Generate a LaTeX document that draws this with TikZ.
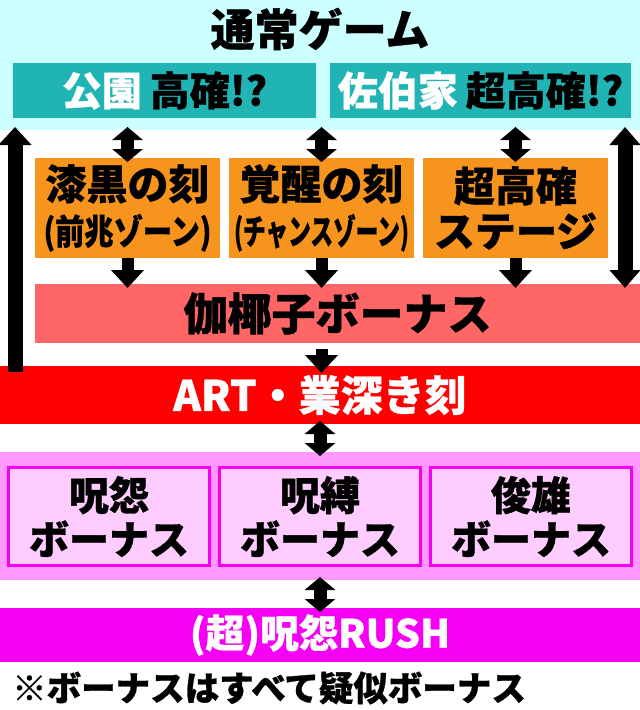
\documentclass[tikz,border=0pt]{standalone}
\usepackage{fontspec}
\usepackage{graphicx}
\setmainfont{Noto Sans CJK JP}[BoldFont={* Black}, BoldFeatures={FakeBold=0.8}]
\usepackage{tikz}
\usetikzlibrary{arrows.meta}
\usetikzlibrary{positioning}
\definecolor{normalbg}{RGB}{204,255,255}
\definecolor{stagebg}{RGB}{32,180,180}
\definecolor{zonebg}{RGB}{247,148,29}
\definecolor{kayakobg}{RGB}{255,102,102}
\definecolor{artbg}{RGB}{255,0,0}
\definecolor{bonusbg}{RGB}{255,153,255}
\definecolor{bonusfill}{RGB}{255,204,255}
\definecolor{bonusedge}{RGB}{245,0,245}
\definecolor{rushbg}{RGB}{245,0,245}
\newcommand{\fs}[2]{\fontsize{#1}{#2}\selectfont\bfseries}
\tikzset{panel/.style={anchor=north west, inner sep=0pt, outer sep=0pt}}
\tikzset{zone/.style={panel, fill=zonebg, minimum width=185pt, minimum height=100pt, align=center, font=\fs{41}{45}}}
\tikzset{bonusbox/.style={panel, fill=bonusfill, draw=bonusedge, line width=3pt, minimum width=201pt, minimum height=98pt, align=center, font=\fs{40}{44}}}
\tikzset{flowarrow/.style={line width=12pt, -{Triangle[width=32pt,length=18pt]}}}
\tikzset{linkarrow/.style={line width=13pt, shorten <=-3pt, shorten >=-4pt, {Triangle[width=30pt,length=13pt]}-{Triangle[width=30pt,length=13pt]}}}

\begin{document}
\begin{tikzpicture}[x=1pt,y=-1pt]
  \useasboundingbox (0,0) rectangle (640,710);
  % normal game
  \node[panel, fill=normalbg, minimum width=640pt, minimum height=130pt] (normal) at (0,0) {};
  \node[font=\fs{44}{44}, inner sep=0pt] (normaltitle) at (320,29) {通常ゲーム};
  \node[panel, fill=stagebg, minimum width=303pt, minimum height=55pt, font=\fs{40}{40}] (park) at (13,63)
    {{\color{white}公園}\hspace{8pt}高確!?};
  \node[panel, fill=stagebg, minimum width=301pt, minimum height=55pt, font=\fs{40}{40}] (saeki) at (330,63)
    {{\color{white}佐伯家}\hspace{8pt}超高確!?};
  % zones
  \node[zone] (shikkoku) at (35,158) {漆黒の刻\\\resizebox{168pt}{\height}{\fs{35}{35}(前兆ゾーン)}};
  \node[zone] (kakusei) at (229,158) {覚醒の刻\\\resizebox{175pt}{\height}{\fs{35}{35}(チャンスゾーン)}};
  \node[zone] (chokoukaku) at (423,158) {超高確\\ステージ};
  % bonus and ART
  \node[panel, fill=kayakobg, minimum width=605pt, minimum height=59pt, font=\fs{44}{44}] (kayako) at (35,284) {伽椰子ボーナス};
  \node[panel, fill=artbg, minimum width=640pt, minimum height=58pt, font=\fs{42}{42}, text=white] (art) at (0,366) {ART・業深き刻};
  \node[panel, fill=bonusbg, minimum width=640pt, minimum height=128pt] (bonusarea) at (0,452) {};
  \foreach \x/\name/\lab in {
    8.5/juon/呪怨,
    219.5/jubaku/呪縛,
    430.5/shunyu/俊雄%
  } {
    \node[bonusbox] (\name) at (\x,467.5) {\lab\\ボーナス};
  }
  \node[panel, fill=rushbg, minimum width=640pt, minimum height=54pt, font=\fs{39}{39}, text=white] (rush) at (0,608) {(超)呪怨RUSH};
  \node[anchor=west, inner sep=0pt, font=\fs{34.5}{34.5}] (note) at (12,688) {※ボーナスはすべて疑似ボーナス};
  % arrows
  \foreach \z in {shikkoku,kakusei,chokoukaku} {
    \draw[linkarrow] (\z.north |- normal.south) -- (\z.north);
    \draw[flowarrow, shorten >=-4pt] (\z.south) -- (\z.south |- kayako.north);
  }
  \draw[flowarrow, shorten <=6pt, shorten >=-7pt] (kakusei.south |- kayako.south) -- (kakusei.south |- art.north);
  \draw[linkarrow] (art.south) -- (bonusarea.north);
  \draw[linkarrow] (bonusarea.south) -- (rush.north);
  \draw[line width=15pt, -{Triangle[width=32pt,length=18pt]}]
    ([xshift=15pt,yshift=-6pt]art.north west) -- ([xshift=15pt,yshift=3pt]normal.south west);
  \draw[line width=15pt, {Triangle[width=30pt,length=18pt]}-{Triangle[width=30pt,length=18pt]}]
    ([xshift=-15pt,yshift=3pt]normal.south east) -- ([xshift=-15pt,yshift=-4pt]kayako.north east);
\end{tikzpicture}
\end{document}
